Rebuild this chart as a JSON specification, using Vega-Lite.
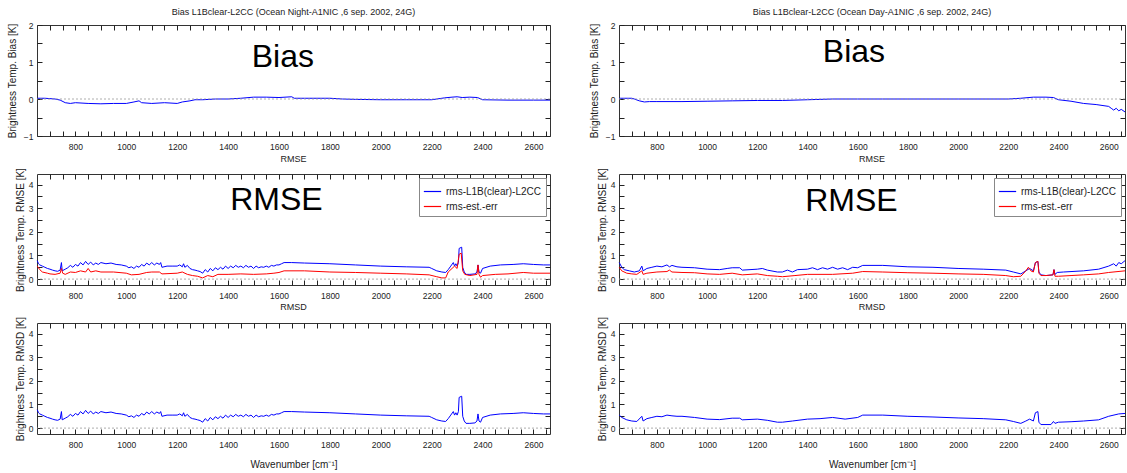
{
"$schema": "https://vega.github.io/schema/vega-lite/v6.json",
"padding": {"left": 6, "top": 7, "right": 0, "bottom": 0},
"config": {
 "font": "Liberation Sans",
 "view": {"stroke": "#333", "strokeWidth": 1},
 "axis": {"domain": false, "grid": false, "ticks": true, "tickSize": 5, "offset": -5, "zindex": 2, "tickColor": "#222", "tickWidth": 1, "labelFontSize": 8.5, "labelColor": "#222", "titleFontSize": 10, "titleFontWeight": "normal", "titleColor": "#222", "labelOverlap": false, "labelFlush": false, "labelPadding": 4, "labelBound": false},
 "axisX": {"labelPadding": 6},
 "title": {"fontSize": 9, "fontWeight": "normal", "color": "#222", "offset": 4},
 "legend": {"orient": "top-right", "offset": 4, "strokeColor": "#888", "fillColor": "#fff", "padding": 4, "symbolType": "stroke", "symbolStrokeWidth": 1.2, "symbolSize": 300, "labelFontSize": 10, "rowPadding": 0, "labelColor": "#222"}
},
"datasets": {
 "nBias": [{"x":650,"y":0.02},{"x":680,"y":0.02},{"x":700,"y":0.01},{"x":720,"y":0.0},{"x":740,"y":-0.03},{"x":760,"y":-0.1},{"x":780,"y":-0.12},{"x":800,"y":-0.1},{"x":850,"y":-0.12},{"x":900,"y":-0.13},{"x":950,"y":-0.12},{"x":1000,"y":-0.12},{"x":1030,"y":-0.08},{"x":1050,"y":-0.05},{"x":1060,"y":-0.1},{"x":1100,"y":-0.12},{"x":1150,"y":-0.1},{"x":1200,"y":-0.12},{"x":1220,"y":-0.08},{"x":1250,"y":-0.05},{"x":1270,"y":-0.02},{"x":1300,"y":-0.02},{"x":1350,"y":0.0},{"x":1400,"y":0.0},{"x":1450,"y":0.02},{"x":1500,"y":0.05},{"x":1550,"y":0.05},{"x":1600,"y":0.04},{"x":1650,"y":0.06},{"x":1660,"y":0.02},{"x":1700,"y":0.02},{"x":1800,"y":0.02},{"x":1850,"y":0.0},{"x":1900,"y":-0.01},{"x":2000,"y":-0.02},{"x":2100,"y":-0.02},{"x":2200,"y":-0.02},{"x":2220,"y":0.0},{"x":2250,"y":0.03},{"x":2280,"y":0.05},{"x":2300,"y":0.06},{"x":2320,"y":0.04},{"x":2350,"y":0.05},{"x":2380,"y":0.04},{"x":2400,"y":-0.02},{"x":2500,"y":-0.03},{"x":2600,"y":-0.03},{"x":2665,"y":-0.03}],
 "nR": [
  {"s":"rms-L1B(clear)-L2CC","x":650,"y":0.78},{"s":"rms-L1B(clear)-L2CC","x":655,"y":0.65},{"s":"rms-L1B(clear)-L2CC","x":660,"y":0.6},{"s":"rms-L1B(clear)-L2CC","x":670,"y":0.55},{"s":"rms-L1B(clear)-L2CC","x":680,"y":0.5},{"s":"rms-L1B(clear)-L2CC","x":690,"y":0.45},{"s":"rms-L1B(clear)-L2CC","x":700,"y":0.42},{"s":"rms-L1B(clear)-L2CC","x":710,"y":0.38},{"s":"rms-L1B(clear)-L2CC","x":720,"y":0.35},{"s":"rms-L1B(clear)-L2CC","x":730,"y":0.33},{"s":"rms-L1B(clear)-L2CC","x":740,"y":0.38},{"s":"rms-L1B(clear)-L2CC","x":745,"y":0.7},{"s":"rms-L1B(clear)-L2CC","x":748,"y":0.35},{"s":"rms-L1B(clear)-L2CC","x":760,"y":0.42},{"s":"rms-L1B(clear)-L2CC","x":770,"y":0.48},{"s":"rms-L1B(clear)-L2CC","x":780,"y":0.58},{"s":"rms-L1B(clear)-L2CC","x":790,"y":0.5},{"s":"rms-L1B(clear)-L2CC","x":800,"y":0.62},{"s":"rms-L1B(clear)-L2CC","x":810,"y":0.55},{"s":"rms-L1B(clear)-L2CC","x":820,"y":0.7},{"s":"rms-L1B(clear)-L2CC","x":830,"y":0.6},{"s":"rms-L1B(clear)-L2CC","x":840,"y":0.75},{"s":"rms-L1B(clear)-L2CC","x":850,"y":0.62},{"s":"rms-L1B(clear)-L2CC","x":860,"y":0.72},{"s":"rms-L1B(clear)-L2CC","x":870,"y":0.6},{"s":"rms-L1B(clear)-L2CC","x":880,"y":0.68},{"s":"rms-L1B(clear)-L2CC","x":890,"y":0.62},{"s":"rms-L1B(clear)-L2CC","x":900,"y":0.7},{"s":"rms-L1B(clear)-L2CC","x":920,"y":0.65},{"s":"rms-L1B(clear)-L2CC","x":940,"y":0.68},{"s":"rms-L1B(clear)-L2CC","x":960,"y":0.62},{"s":"rms-L1B(clear)-L2CC","x":980,"y":0.6},{"s":"rms-L1B(clear)-L2CC","x":1000,"y":0.55},{"s":"rms-L1B(clear)-L2CC","x":1010,"y":0.48},{"s":"rms-L1B(clear)-L2CC","x":1020,"y":0.52},{"s":"rms-L1B(clear)-L2CC","x":1030,"y":0.45},{"s":"rms-L1B(clear)-L2CC","x":1040,"y":0.55},{"s":"rms-L1B(clear)-L2CC","x":1050,"y":0.5},{"s":"rms-L1B(clear)-L2CC","x":1060,"y":0.62},{"s":"rms-L1B(clear)-L2CC","x":1070,"y":0.55},{"s":"rms-L1B(clear)-L2CC","x":1080,"y":0.68},{"s":"rms-L1B(clear)-L2CC","x":1090,"y":0.6},{"s":"rms-L1B(clear)-L2CC","x":1100,"y":0.7},{"s":"rms-L1B(clear)-L2CC","x":1110,"y":0.6},{"s":"rms-L1B(clear)-L2CC","x":1120,"y":0.68},{"s":"rms-L1B(clear)-L2CC","x":1130,"y":0.62},{"s":"rms-L1B(clear)-L2CC","x":1135,"y":0.7},{"s":"rms-L1B(clear)-L2CC","x":1140,"y":0.5},{"s":"rms-L1B(clear)-L2CC","x":1160,"y":0.55},{"s":"rms-L1B(clear)-L2CC","x":1180,"y":0.55},{"s":"rms-L1B(clear)-L2CC","x":1200,"y":0.55},{"s":"rms-L1B(clear)-L2CC","x":1210,"y":0.6},{"s":"rms-L1B(clear)-L2CC","x":1220,"y":0.52},{"s":"rms-L1B(clear)-L2CC","x":1225,"y":0.65},{"s":"rms-L1B(clear)-L2CC","x":1230,"y":0.5},{"s":"rms-L1B(clear)-L2CC","x":1240,"y":0.58},{"s":"rms-L1B(clear)-L2CC","x":1250,"y":0.45},{"s":"rms-L1B(clear)-L2CC","x":1260,"y":0.4},{"s":"rms-L1B(clear)-L2CC","x":1270,"y":0.38},{"s":"rms-L1B(clear)-L2CC","x":1280,"y":0.35},{"s":"rms-L1B(clear)-L2CC","x":1290,"y":0.32},{"s":"rms-L1B(clear)-L2CC","x":1300,"y":0.25},{"s":"rms-L1B(clear)-L2CC","x":1310,"y":0.4},{"s":"rms-L1B(clear)-L2CC","x":1320,"y":0.3},{"s":"rms-L1B(clear)-L2CC","x":1330,"y":0.45},{"s":"rms-L1B(clear)-L2CC","x":1340,"y":0.35},{"s":"rms-L1B(clear)-L2CC","x":1350,"y":0.48},{"s":"rms-L1B(clear)-L2CC","x":1360,"y":0.4},{"s":"rms-L1B(clear)-L2CC","x":1370,"y":0.5},{"s":"rms-L1B(clear)-L2CC","x":1380,"y":0.42},{"s":"rms-L1B(clear)-L2CC","x":1390,"y":0.55},{"s":"rms-L1B(clear)-L2CC","x":1400,"y":0.45},{"s":"rms-L1B(clear)-L2CC","x":1410,"y":0.55},{"s":"rms-L1B(clear)-L2CC","x":1420,"y":0.48},{"s":"rms-L1B(clear)-L2CC","x":1430,"y":0.58},{"s":"rms-L1B(clear)-L2CC","x":1440,"y":0.5},{"s":"rms-L1B(clear)-L2CC","x":1450,"y":0.55},{"s":"rms-L1B(clear)-L2CC","x":1460,"y":0.48},{"s":"rms-L1B(clear)-L2CC","x":1470,"y":0.58},{"s":"rms-L1B(clear)-L2CC","x":1480,"y":0.5},{"s":"rms-L1B(clear)-L2CC","x":1490,"y":0.55},{"s":"rms-L1B(clear)-L2CC","x":1500,"y":0.45},{"s":"rms-L1B(clear)-L2CC","x":1510,"y":0.55},{"s":"rms-L1B(clear)-L2CC","x":1520,"y":0.48},{"s":"rms-L1B(clear)-L2CC","x":1530,"y":0.52},{"s":"rms-L1B(clear)-L2CC","x":1540,"y":0.5},{"s":"rms-L1B(clear)-L2CC","x":1550,"y":0.55},{"s":"rms-L1B(clear)-L2CC","x":1560,"y":0.5},{"s":"rms-L1B(clear)-L2CC","x":1570,"y":0.58},{"s":"rms-L1B(clear)-L2CC","x":1580,"y":0.55},{"s":"rms-L1B(clear)-L2CC","x":1590,"y":0.6},{"s":"rms-L1B(clear)-L2CC","x":1600,"y":0.6},{"s":"rms-L1B(clear)-L2CC","x":1610,"y":0.65},{"s":"rms-L1B(clear)-L2CC","x":1620,"y":0.7},{"s":"rms-L1B(clear)-L2CC","x":1650,"y":0.7},{"s":"rms-L1B(clear)-L2CC","x":1700,"y":0.68},{"s":"rms-L1B(clear)-L2CC","x":1800,"y":0.65},{"s":"rms-L1B(clear)-L2CC","x":1900,"y":0.6},{"s":"rms-L1B(clear)-L2CC","x":2000,"y":0.55},{"s":"rms-L1B(clear)-L2CC","x":2100,"y":0.52},{"s":"rms-L1B(clear)-L2CC","x":2190,"y":0.5},{"s":"rms-L1B(clear)-L2CC","x":2200,"y":0.45},{"s":"rms-L1B(clear)-L2CC","x":2220,"y":0.35},{"s":"rms-L1B(clear)-L2CC","x":2240,"y":0.3},{"s":"rms-L1B(clear)-L2CC","x":2255,"y":0.28},{"s":"rms-L1B(clear)-L2CC","x":2265,"y":0.4},{"s":"rms-L1B(clear)-L2CC","x":2275,"y":0.55},{"s":"rms-L1B(clear)-L2CC","x":2285,"y":0.7},{"s":"rms-L1B(clear)-L2CC","x":2290,"y":0.55},{"s":"rms-L1B(clear)-L2CC","x":2295,"y":0.65},{"s":"rms-L1B(clear)-L2CC","x":2300,"y":0.55},{"s":"rms-L1B(clear)-L2CC","x":2305,"y":0.7},{"s":"rms-L1B(clear)-L2CC","x":2308,"y":1.3},{"s":"rms-L1B(clear)-L2CC","x":2318,"y":1.35},{"s":"rms-L1B(clear)-L2CC","x":2322,"y":0.5},{"s":"rms-L1B(clear)-L2CC","x":2328,"y":0.3},{"s":"rms-L1B(clear)-L2CC","x":2335,"y":0.2},{"s":"rms-L1B(clear)-L2CC","x":2350,"y":0.2},{"s":"rms-L1B(clear)-L2CC","x":2370,"y":0.22},{"s":"rms-L1B(clear)-L2CC","x":2378,"y":0.3},{"s":"rms-L1B(clear)-L2CC","x":2382,"y":0.6},{"s":"rms-L1B(clear)-L2CC","x":2386,"y":0.3},{"s":"rms-L1B(clear)-L2CC","x":2392,"y":0.25},{"s":"rms-L1B(clear)-L2CC","x":2400,"y":0.45},{"s":"rms-L1B(clear)-L2CC","x":2430,"y":0.55},{"s":"rms-L1B(clear)-L2CC","x":2470,"y":0.6},{"s":"rms-L1B(clear)-L2CC","x":2520,"y":0.62},{"s":"rms-L1B(clear)-L2CC","x":2560,"y":0.65},{"s":"rms-L1B(clear)-L2CC","x":2600,"y":0.62},{"s":"rms-L1B(clear)-L2CC","x":2640,"y":0.6},{"s":"rms-L1B(clear)-L2CC","x":2665,"y":0.6},
  {"s":"rms-est.-err","x":650,"y":0.55},{"s":"rms-est.-err","x":660,"y":0.4},{"s":"rms-est.-err","x":670,"y":0.3},{"s":"rms-est.-err","x":690,"y":0.25},{"s":"rms-est.-err","x":700,"y":0.22},{"s":"rms-est.-err","x":720,"y":0.2},{"s":"rms-est.-err","x":740,"y":0.25},{"s":"rms-est.-err","x":745,"y":0.45},{"s":"rms-est.-err","x":750,"y":0.25},{"s":"rms-est.-err","x":760,"y":0.2},{"s":"rms-est.-err","x":780,"y":0.3},{"s":"rms-est.-err","x":800,"y":0.28},{"s":"rms-est.-err","x":820,"y":0.35},{"s":"rms-est.-err","x":840,"y":0.3},{"s":"rms-est.-err","x":850,"y":0.45},{"s":"rms-est.-err","x":860,"y":0.3},{"s":"rms-est.-err","x":880,"y":0.35},{"s":"rms-est.-err","x":900,"y":0.3},{"s":"rms-est.-err","x":950,"y":0.3},{"s":"rms-est.-err","x":1000,"y":0.25},{"s":"rms-est.-err","x":1020,"y":0.18},{"s":"rms-est.-err","x":1050,"y":0.2},{"s":"rms-est.-err","x":1080,"y":0.28},{"s":"rms-est.-err","x":1100,"y":0.3},{"s":"rms-est.-err","x":1130,"y":0.3},{"s":"rms-est.-err","x":1140,"y":0.22},{"s":"rms-est.-err","x":1200,"y":0.25},{"s":"rms-est.-err","x":1220,"y":0.3},{"s":"rms-est.-err","x":1240,"y":0.2},{"s":"rms-est.-err","x":1260,"y":0.15},{"s":"rms-est.-err","x":1280,"y":0.12},{"s":"rms-est.-err","x":1300,"y":0.05},{"s":"rms-est.-err","x":1320,"y":0.15},{"s":"rms-est.-err","x":1340,"y":0.1},{"s":"rms-est.-err","x":1360,"y":0.2},{"s":"rms-est.-err","x":1400,"y":0.2},{"s":"rms-est.-err","x":1450,"y":0.22},{"s":"rms-est.-err","x":1500,"y":0.2},{"s":"rms-est.-err","x":1550,"y":0.22},{"s":"rms-est.-err","x":1580,"y":0.25},{"s":"rms-est.-err","x":1600,"y":0.28},{"s":"rms-est.-err","x":1620,"y":0.35},{"s":"rms-est.-err","x":1700,"y":0.35},{"s":"rms-est.-err","x":1800,"y":0.3},{"s":"rms-est.-err","x":1900,"y":0.28},{"s":"rms-est.-err","x":2000,"y":0.25},{"s":"rms-est.-err","x":2100,"y":0.22},{"s":"rms-est.-err","x":2190,"y":0.18},{"s":"rms-est.-err","x":2220,"y":0.1},{"s":"rms-est.-err","x":2240,"y":0.05},{"s":"rms-est.-err","x":2255,"y":0.05},{"s":"rms-est.-err","x":2265,"y":0.3},{"s":"rms-est.-err","x":2280,"y":0.45},{"s":"rms-est.-err","x":2290,"y":0.55},{"s":"rms-est.-err","x":2300,"y":0.45},{"s":"rms-est.-err","x":2308,"y":1.05},{"s":"rms-est.-err","x":2316,"y":1.1},{"s":"rms-est.-err","x":2322,"y":0.35},{"s":"rms-est.-err","x":2330,"y":0.2},{"s":"rms-est.-err","x":2350,"y":0.15},{"s":"rms-est.-err","x":2378,"y":0.2},{"s":"rms-est.-err","x":2382,"y":0.6},{"s":"rms-est.-err","x":2386,"y":0.2},{"s":"rms-est.-err","x":2392,"y":0.08},{"s":"rms-est.-err","x":2400,"y":0.15},{"s":"rms-est.-err","x":2450,"y":0.2},{"s":"rms-est.-err","x":2500,"y":0.22},{"s":"rms-est.-err","x":2560,"y":0.28},{"s":"rms-est.-err","x":2600,"y":0.25},{"s":"rms-est.-err","x":2665,"y":0.25}
 ],
 "dBias": [{"x":650,"y":0.02},{"x":700,"y":0.02},{"x":710,"y":0.0},{"x":730,"y":-0.05},{"x":750,"y":-0.08},{"x":770,"y":-0.07},{"x":800,"y":-0.07},{"x":900,"y":-0.07},{"x":1000,"y":-0.06},{"x":1100,"y":-0.05},{"x":1200,"y":-0.04},{"x":1300,"y":-0.04},{"x":1400,"y":-0.02},{"x":1500,"y":0.0},{"x":1600,"y":0.0},{"x":1700,"y":0.0},{"x":1800,"y":0.0},{"x":2000,"y":0.0},{"x":2200,"y":0.0},{"x":2250,"y":0.02},{"x":2300,"y":0.05},{"x":2350,"y":0.05},{"x":2380,"y":0.04},{"x":2400,"y":-0.02},{"x":2450,"y":-0.06},{"x":2500,"y":-0.12},{"x":2550,"y":-0.15},{"x":2600,"y":-0.2},{"x":2610,"y":-0.25},{"x":2620,"y":-0.3},{"x":2630,"y":-0.25},{"x":2640,"y":-0.32},{"x":2650,"y":-0.28},{"x":2665,"y":-0.35}],
 "dR": [
  {"s":"rms-L1B(clear)-L2CC","x":650,"y":0.7},{"s":"rms-L1B(clear)-L2CC","x":660,"y":0.5},{"s":"rms-L1B(clear)-L2CC","x":670,"y":0.4},{"s":"rms-L1B(clear)-L2CC","x":690,"y":0.35},{"s":"rms-L1B(clear)-L2CC","x":710,"y":0.3},{"s":"rms-L1B(clear)-L2CC","x":730,"y":0.35},{"s":"rms-L1B(clear)-L2CC","x":740,"y":0.55},{"s":"rms-L1B(clear)-L2CC","x":745,"y":0.35},{"s":"rms-L1B(clear)-L2CC","x":760,"y":0.45},{"s":"rms-L1B(clear)-L2CC","x":780,"y":0.5},{"s":"rms-L1B(clear)-L2CC","x":800,"y":0.55},{"s":"rms-L1B(clear)-L2CC","x":820,"y":0.52},{"s":"rms-L1B(clear)-L2CC","x":840,"y":0.6},{"s":"rms-L1B(clear)-L2CC","x":850,"y":0.52},{"s":"rms-L1B(clear)-L2CC","x":860,"y":0.58},{"s":"rms-L1B(clear)-L2CC","x":880,"y":0.52},{"s":"rms-L1B(clear)-L2CC","x":900,"y":0.5},{"s":"rms-L1B(clear)-L2CC","x":950,"y":0.48},{"s":"rms-L1B(clear)-L2CC","x":1000,"y":0.42},{"s":"rms-L1B(clear)-L2CC","x":1050,"y":0.4},{"s":"rms-L1B(clear)-L2CC","x":1080,"y":0.45},{"s":"rms-L1B(clear)-L2CC","x":1100,"y":0.48},{"s":"rms-L1B(clear)-L2CC","x":1130,"y":0.48},{"s":"rms-L1B(clear)-L2CC","x":1140,"y":0.38},{"s":"rms-L1B(clear)-L2CC","x":1200,"y":0.42},{"s":"rms-L1B(clear)-L2CC","x":1220,"y":0.45},{"s":"rms-L1B(clear)-L2CC","x":1240,"y":0.38},{"s":"rms-L1B(clear)-L2CC","x":1280,"y":0.3},{"s":"rms-L1B(clear)-L2CC","x":1300,"y":0.3},{"s":"rms-L1B(clear)-L2CC","x":1320,"y":0.38},{"s":"rms-L1B(clear)-L2CC","x":1340,"y":0.3},{"s":"rms-L1B(clear)-L2CC","x":1360,"y":0.4},{"s":"rms-L1B(clear)-L2CC","x":1400,"y":0.42},{"s":"rms-L1B(clear)-L2CC","x":1420,"y":0.48},{"s":"rms-L1B(clear)-L2CC","x":1440,"y":0.4},{"s":"rms-L1B(clear)-L2CC","x":1460,"y":0.48},{"s":"rms-L1B(clear)-L2CC","x":1480,"y":0.42},{"s":"rms-L1B(clear)-L2CC","x":1500,"y":0.5},{"s":"rms-L1B(clear)-L2CC","x":1520,"y":0.42},{"s":"rms-L1B(clear)-L2CC","x":1540,"y":0.48},{"s":"rms-L1B(clear)-L2CC","x":1560,"y":0.4},{"s":"rms-L1B(clear)-L2CC","x":1580,"y":0.5},{"s":"rms-L1B(clear)-L2CC","x":1600,"y":0.48},{"s":"rms-L1B(clear)-L2CC","x":1620,"y":0.58},{"s":"rms-L1B(clear)-L2CC","x":1700,"y":0.58},{"s":"rms-L1B(clear)-L2CC","x":1800,"y":0.52},{"s":"rms-L1B(clear)-L2CC","x":1900,"y":0.5},{"s":"rms-L1B(clear)-L2CC","x":2000,"y":0.45},{"s":"rms-L1B(clear)-L2CC","x":2100,"y":0.42},{"s":"rms-L1B(clear)-L2CC","x":2190,"y":0.38},{"s":"rms-L1B(clear)-L2CC","x":2220,"y":0.3},{"s":"rms-L1B(clear)-L2CC","x":2250,"y":0.22},{"s":"rms-L1B(clear)-L2CC","x":2270,"y":0.35},{"s":"rms-L1B(clear)-L2CC","x":2285,"y":0.45},{"s":"rms-L1B(clear)-L2CC","x":2300,"y":0.35},{"s":"rms-L1B(clear)-L2CC","x":2308,"y":0.7},{"s":"rms-L1B(clear)-L2CC","x":2318,"y":0.75},{"s":"rms-L1B(clear)-L2CC","x":2322,"y":0.3},{"s":"rms-L1B(clear)-L2CC","x":2330,"y":0.18},{"s":"rms-L1B(clear)-L2CC","x":2350,"y":0.15},{"s":"rms-L1B(clear)-L2CC","x":2378,"y":0.18},{"s":"rms-L1B(clear)-L2CC","x":2382,"y":0.4},{"s":"rms-L1B(clear)-L2CC","x":2386,"y":0.2},{"s":"rms-L1B(clear)-L2CC","x":2395,"y":0.28},{"s":"rms-L1B(clear)-L2CC","x":2420,"y":0.3},{"s":"rms-L1B(clear)-L2CC","x":2500,"y":0.35},{"s":"rms-L1B(clear)-L2CC","x":2560,"y":0.42},{"s":"rms-L1B(clear)-L2CC","x":2600,"y":0.55},{"s":"rms-L1B(clear)-L2CC","x":2620,"y":0.65},{"s":"rms-L1B(clear)-L2CC","x":2630,"y":0.55},{"s":"rms-L1B(clear)-L2CC","x":2640,"y":0.7},{"s":"rms-L1B(clear)-L2CC","x":2650,"y":0.65},{"s":"rms-L1B(clear)-L2CC","x":2665,"y":0.78},
  {"s":"rms-est.-err","x":650,"y":0.5},{"s":"rms-est.-err","x":660,"y":0.35},{"s":"rms-est.-err","x":680,"y":0.25},{"s":"rms-est.-err","x":700,"y":0.22},{"s":"rms-est.-err","x":720,"y":0.2},{"s":"rms-est.-err","x":740,"y":0.35},{"s":"rms-est.-err","x":745,"y":0.2},{"s":"rms-est.-err","x":760,"y":0.25},{"s":"rms-est.-err","x":800,"y":0.3},{"s":"rms-est.-err","x":840,"y":0.32},{"s":"rms-est.-err","x":850,"y":0.38},{"s":"rms-est.-err","x":860,"y":0.3},{"s":"rms-est.-err","x":900,"y":0.28},{"s":"rms-est.-err","x":950,"y":0.27},{"s":"rms-est.-err","x":1000,"y":0.22},{"s":"rms-est.-err","x":1050,"y":0.2},{"s":"rms-est.-err","x":1100,"y":0.25},{"s":"rms-est.-err","x":1140,"y":0.18},{"s":"rms-est.-err","x":1200,"y":0.22},{"s":"rms-est.-err","x":1240,"y":0.15},{"s":"rms-est.-err","x":1280,"y":0.12},{"s":"rms-est.-err","x":1300,"y":0.1},{"s":"rms-est.-err","x":1350,"y":0.15},{"s":"rms-est.-err","x":1400,"y":0.2},{"s":"rms-est.-err","x":1500,"y":0.2},{"s":"rms-est.-err","x":1580,"y":0.25},{"s":"rms-est.-err","x":1620,"y":0.32},{"s":"rms-est.-err","x":1700,"y":0.3},{"s":"rms-est.-err","x":1800,"y":0.27},{"s":"rms-est.-err","x":1900,"y":0.25},{"s":"rms-est.-err","x":2000,"y":0.22},{"s":"rms-est.-err","x":2100,"y":0.2},{"s":"rms-est.-err","x":2190,"y":0.15},{"s":"rms-est.-err","x":2220,"y":0.1},{"s":"rms-est.-err","x":2250,"y":0.12},{"s":"rms-est.-err","x":2270,"y":0.35},{"s":"rms-est.-err","x":2280,"y":0.5},{"s":"rms-est.-err","x":2290,"y":0.35},{"s":"rms-est.-err","x":2300,"y":0.3},{"s":"rms-est.-err","x":2308,"y":0.7},{"s":"rms-est.-err","x":2318,"y":0.75},{"s":"rms-est.-err","x":2322,"y":0.25},{"s":"rms-est.-err","x":2330,"y":0.15},{"s":"rms-est.-err","x":2350,"y":0.15},{"s":"rms-est.-err","x":2378,"y":0.18},{"s":"rms-est.-err","x":2382,"y":0.4},{"s":"rms-est.-err","x":2386,"y":0.12},{"s":"rms-est.-err","x":2400,"y":0.12},{"s":"rms-est.-err","x":2450,"y":0.15},{"s":"rms-est.-err","x":2500,"y":0.18},{"s":"rms-est.-err","x":2560,"y":0.22},{"s":"rms-est.-err","x":2600,"y":0.28},{"s":"rms-est.-err","x":2665,"y":0.35}
 ],
 "dD": [{"x":650,"y":0.55},{"x":660,"y":0.45},{"x":680,"y":0.35},{"x":700,"y":0.3},{"x":720,"y":0.28},{"x":740,"y":0.5},{"x":745,"y":0.3},{"x":760,"y":0.4},{"x":780,"y":0.45},{"x":800,"y":0.5},{"x":820,"y":0.48},{"x":840,"y":0.55},{"x":860,"y":0.52},{"x":880,"y":0.5},{"x":900,"y":0.5},{"x":950,"y":0.45},{"x":1000,"y":0.38},{"x":1050,"y":0.36},{"x":1100,"y":0.42},{"x":1130,"y":0.42},{"x":1140,"y":0.35},{"x":1200,"y":0.38},{"x":1240,"y":0.33},{"x":1280,"y":0.25},{"x":1300,"y":0.25},{"x":1340,"y":0.3},{"x":1400,"y":0.38},{"x":1450,"y":0.4},{"x":1500,"y":0.45},{"x":1550,"y":0.38},{"x":1600,"y":0.45},{"x":1620,"y":0.55},{"x":1700,"y":0.55},{"x":1800,"y":0.5},{"x":1900,"y":0.47},{"x":2000,"y":0.43},{"x":2100,"y":0.4},{"x":2190,"y":0.35},{"x":2220,"y":0.28},{"x":2250,"y":0.2},{"x":2270,"y":0.3},{"x":2285,"y":0.38},{"x":2300,"y":0.3},{"x":2308,"y":0.65},{"x":2318,"y":0.7},{"x":2322,"y":0.25},{"x":2330,"y":0.15},{"x":2370,"y":0.15},{"x":2380,"y":0.28},{"x":2386,"y":0.2},{"x":2400,"y":0.25},{"x":2450,"y":0.27},{"x":2500,"y":0.3},{"x":2560,"y":0.35},{"x":2600,"y":0.5},{"x":2640,"y":0.6},{"x":2665,"y":0.62}]
},
"columns": 2,
"spacing": {"row": 38, "column": 69},
"bounds": "flush",
"resolve": {"scale": {"stroke": "independent"}, "legend": {"stroke": "independent"}},
"concat": [
  {"width": 513, "height": 111,
   "title": "Bias L1Bclear-L2CC  (Ocean Night-A1NIC ,6 sep. 2002, 24G)",
   "layer": [
    {"data": {"name": "nBias"}, "mark": {"type": "line", "color": "#0000ff", "strokeWidth": 1},
     "encoding": {
      "x": {"field": "x", "type": "quantitative", "scale": {"domain": [649, 2665], "nice": false, "zero": false}, "axis": {"orient": "bottom", "values": [700,750,800,850,900,950,1000,1050,1100,1150,1200,1250,1300,1350,1400,1450,1500,1550,1600,1650,1700,1750,1800,1850,1900,1950,2000,2050,2100,2150,2200,2250,2300,2350,2400,2450,2500,2550,2600,2650], "format": "d", "labelExpr": "datum.value % 200 == 0 ? datum.label : ''", "title": null}},
      "y": {"field": "y", "type": "quantitative", "scale": {"domain": [-1, 2], "nice": false, "zero": false}, "axis": {"orient": "left", "values": [-1,-0.5,0,0.5,1,1.5,2], "format": "~g", "labelExpr": "datum.value % 1 == 0 ? datum.label : ''", "title": "Brightness Temp. Bias [K]", "titlePadding": 6}}}},
    {"data": {"values": [{}]}, "mark": {"type": "rule", "color": "#999", "strokeDash": [2, 2], "strokeWidth": 0.8},
     "encoding": {"y": {"datum": 0, "type": "quantitative", "axis": null}}},
    {"data": {"values": [{}]}, "mark": {"type": "text", "fontSize": 32, "color": "#000"},
     "encoding": {
      "x": {"datum": 1615, "type": "quantitative", "axis": {"orient": "top", "values": [700,750,800,850,900,950,1000,1050,1100,1150,1200,1250,1300,1350,1400,1450,1500,1550,1600,1650,1700,1750,1800,1850,1900,1950,2000,2050,2100,2150,2200,2250,2300,2350,2400,2450,2500,2550,2600,2650], "labels": false, "title": null}},
      "y": {"datum": 1.13, "type": "quantitative", "axis": {"orient": "right", "values": [-1,-0.5,0,0.5,1,1.5,2], "labels": false, "title": null}},
      "text": {"value": "Bias"}}}
   ],
   "resolve": {"axis": {"x": "independent", "y": "independent"}}
  },
  {"width": 506, "height": 111,
   "title": "Bias L1Bclear-L2CC  (Ocean Day-A1NIC ,6 sep. 2002, 24G)",
   "layer": [
    {"data": {"name": "dBias"}, "mark": {"type": "line", "color": "#0000ff", "strokeWidth": 1},
     "encoding": {
      "x": {"field": "x", "type": "quantitative", "scale": {"domain": [649, 2665], "nice": false, "zero": false}, "axis": {"orient": "bottom", "values": [700,750,800,850,900,950,1000,1050,1100,1150,1200,1250,1300,1350,1400,1450,1500,1550,1600,1650,1700,1750,1800,1850,1900,1950,2000,2050,2100,2150,2200,2250,2300,2350,2400,2450,2500,2550,2600,2650], "format": "d", "labelExpr": "datum.value % 200 == 0 ? datum.label : ''", "title": null}},
      "y": {"field": "y", "type": "quantitative", "scale": {"domain": [-1, 2], "nice": false, "zero": false}, "axis": {"orient": "left", "values": [-1,-0.5,0,0.5,1,1.5,2], "format": "~g", "labelExpr": "datum.value % 1 == 0 ? datum.label : ''", "title": "Brightness Temp. Bias [K]", "titlePadding": 6}}}},
    {"data": {"values": [{}]}, "mark": {"type": "rule", "color": "#999", "strokeDash": [2, 2], "strokeWidth": 0.8},
     "encoding": {"y": {"datum": 0, "type": "quantitative", "axis": null}}},
    {"data": {"values": [{}]}, "mark": {"type": "text", "fontSize": 32, "color": "#000"},
     "encoding": {
      "x": {"datum": 1585, "type": "quantitative", "axis": {"orient": "top", "values": [700,750,800,850,900,950,1000,1050,1100,1150,1200,1250,1300,1350,1400,1450,1500,1550,1600,1650,1700,1750,1800,1850,1900,1950,2000,2050,2100,2150,2200,2250,2300,2350,2400,2450,2500,2550,2600,2650], "labels": false, "title": null}},
      "y": {"datum": 1.27, "type": "quantitative", "axis": {"orient": "right", "values": [-1,-0.5,0,0.5,1,1.5,2], "labels": false, "title": null}},
      "text": {"value": "Bias"}}}
   ],
   "resolve": {"axis": {"x": "independent", "y": "independent"}}
  },
  {"width": 513, "height": 111,
   "title": "RMSE",
   "layer": [
    {"data": {"name": "nR"}, "mark": {"type": "line", "strokeWidth": 1},
     "encoding": {
      "x": {"field": "x", "type": "quantitative", "scale": {"domain": [649, 2665], "nice": false, "zero": false}, "axis": {"orient": "bottom", "values": [700,750,800,850,900,950,1000,1050,1100,1150,1200,1250,1300,1350,1400,1450,1500,1550,1600,1650,1700,1750,1800,1850,1900,1950,2000,2050,2100,2150,2200,2250,2300,2350,2400,2450,2500,2550,2600,2650], "format": "d", "labelExpr": "datum.value % 200 == 0 ? datum.label : ''", "title": null}},
      "y": {"field": "y", "type": "quantitative", "scale": {"domain": [-0.25, 4.45], "nice": false, "zero": false}, "axis": {"orient": "left", "values": [0,0.5,1,1.5,2,2.5,3,3.5,4], "format": "~g", "labelExpr": "datum.value % 1 == 0 ? datum.label : ''", "title": "Brightness Temp. RMSE [K]", "titlePadding": 3}},
      "stroke": {"field": "s", "type": "nominal", "scale": {"domain": ["rms-L1B(clear)-L2CC", "rms-est.-err"], "range": ["#0000ff", "#ff0000"]}, "legend": {"title": null}}}},
    {"data": {"values": [{}]}, "mark": {"type": "rule", "color": "#999", "strokeDash": [2, 2], "strokeWidth": 0.8},
     "encoding": {"y": {"datum": 0, "type": "quantitative", "axis": null}}},
    {"data": {"values": [{}]}, "mark": {"type": "text", "fontSize": 32, "color": "#000"},
     "encoding": {
      "x": {"datum": 1590, "type": "quantitative", "axis": {"orient": "top", "values": [700,750,800,850,900,950,1000,1050,1100,1150,1200,1250,1300,1350,1400,1450,1500,1550,1600,1650,1700,1750,1800,1850,1900,1950,2000,2050,2100,2150,2200,2250,2300,2350,2400,2450,2500,2550,2600,2650], "labels": false, "title": null}},
      "y": {"datum": 3.36, "type": "quantitative", "axis": {"orient": "right", "values": [0,0.5,1,1.5,2,2.5,3,3.5,4], "labels": false, "title": null}},
      "text": {"value": "RMSE"}}}
   ],
   "resolve": {"axis": {"x": "independent", "y": "independent"}}
  },
  {"width": 506, "height": 111,
   "title": "RMSE",
   "layer": [
    {"data": {"name": "dR"}, "mark": {"type": "line", "strokeWidth": 1},
     "encoding": {
      "x": {"field": "x", "type": "quantitative", "scale": {"domain": [649, 2665], "nice": false, "zero": false}, "axis": {"orient": "bottom", "values": [700,750,800,850,900,950,1000,1050,1100,1150,1200,1250,1300,1350,1400,1450,1500,1550,1600,1650,1700,1750,1800,1850,1900,1950,2000,2050,2100,2150,2200,2250,2300,2350,2400,2450,2500,2550,2600,2650], "format": "d", "labelExpr": "datum.value % 200 == 0 ? datum.label : ''", "title": null}},
      "y": {"field": "y", "type": "quantitative", "scale": {"domain": [-0.25, 4.45], "nice": false, "zero": false}, "axis": {"orient": "left", "values": [0,0.5,1,1.5,2,2.5,3,3.5,4], "format": "~g", "labelExpr": "datum.value % 1 == 0 ? datum.label : ''", "title": "Brightness Temp. RMSE [K]", "titlePadding": 3}},
      "stroke": {"field": "s", "type": "nominal", "scale": {"domain": ["rms-L1B(clear)-L2CC", "rms-est.-err"], "range": ["#0000ff", "#ff0000"]}, "legend": {"title": null}}}},
    {"data": {"values": [{}]}, "mark": {"type": "rule", "color": "#999", "strokeDash": [2, 2], "strokeWidth": 0.8},
     "encoding": {"y": {"datum": 0, "type": "quantitative", "axis": null}}},
    {"data": {"values": [{}]}, "mark": {"type": "text", "fontSize": 32, "color": "#000"},
     "encoding": {
      "x": {"datum": 1575, "type": "quantitative", "axis": {"orient": "top", "values": [700,750,800,850,900,950,1000,1050,1100,1150,1200,1250,1300,1350,1400,1450,1500,1550,1600,1650,1700,1750,1800,1850,1900,1950,2000,2050,2100,2150,2200,2250,2300,2350,2400,2450,2500,2550,2600,2650], "labels": false, "title": null}},
      "y": {"datum": 3.31, "type": "quantitative", "axis": {"orient": "right", "values": [0,0.5,1,1.5,2,2.5,3,3.5,4], "labels": false, "title": null}},
      "text": {"value": "RMSE"}}}
   ],
   "resolve": {"axis": {"x": "independent", "y": "independent"}}
  },
  {"width": 513, "height": 111,
   "title": "RMSD",
   "layer": [
    {"data": {"name": "nR"}, "transform": [{"filter": "datum.s == 'rms-L1B(clear)-L2CC'"}], "mark": {"type": "line", "color": "#0000ff", "strokeWidth": 1},
     "encoding": {
      "x": {"field": "x", "type": "quantitative", "scale": {"domain": [649, 2665], "nice": false, "zero": false}, "axis": {"orient": "bottom", "values": [700,750,800,850,900,950,1000,1050,1100,1150,1200,1250,1300,1350,1400,1450,1500,1550,1600,1650,1700,1750,1800,1850,1900,1950,2000,2050,2100,2150,2200,2250,2300,2350,2400,2450,2500,2550,2600,2650], "format": "d", "labelExpr": "datum.value % 200 == 0 ? datum.label : ''", "title": "Wavenumber [cm⁻¹]", "titlePadding": 11}},
      "y": {"field": "y", "type": "quantitative", "scale": {"domain": [-0.25, 4.45], "nice": false, "zero": false}, "axis": {"orient": "left", "values": [0,0.5,1,1.5,2,2.5,3,3.5,4], "format": "~g", "labelExpr": "datum.value % 1 == 0 ? datum.label : ''", "title": "Brightness Temp. RMSD [K]", "titlePadding": 3}}}},
    {"data": {"values": [{}]}, "mark": {"type": "rule", "color": "#999", "strokeDash": [2, 2], "strokeWidth": 0.8},
     "encoding": {"y": {"datum": 0, "type": "quantitative", "axis": null}}},
    {"data": {"values": [{}]}, "mark": {"type": "text", "text": ""},
     "encoding": {
      "x": {"datum": 1600, "type": "quantitative", "axis": {"orient": "top", "values": [700,750,800,850,900,950,1000,1050,1100,1150,1200,1250,1300,1350,1400,1450,1500,1550,1600,1650,1700,1750,1800,1850,1900,1950,2000,2050,2100,2150,2200,2250,2300,2350,2400,2450,2500,2550,2600,2650], "labels": false, "title": null}},
      "y": {"datum": 2, "type": "quantitative", "axis": {"orient": "right", "values": [0,0.5,1,1.5,2,2.5,3,3.5,4], "labels": false, "title": null}}}}
   ],
   "resolve": {"axis": {"x": "independent", "y": "independent"}}
  },
  {"width": 506, "height": 111,
   "title": "RMSD",
   "layer": [
    {"data": {"name": "dD"}, "mark": {"type": "line", "color": "#0000ff", "strokeWidth": 1},
     "encoding": {
      "x": {"field": "x", "type": "quantitative", "scale": {"domain": [649, 2665], "nice": false, "zero": false}, "axis": {"orient": "bottom", "values": [700,750,800,850,900,950,1000,1050,1100,1150,1200,1250,1300,1350,1400,1450,1500,1550,1600,1650,1700,1750,1800,1850,1900,1950,2000,2050,2100,2150,2200,2250,2300,2350,2400,2450,2500,2550,2600,2650], "format": "d", "labelExpr": "datum.value % 200 == 0 ? datum.label : ''", "title": "Wavenumber [cm⁻¹]", "titlePadding": 11}},
      "y": {"field": "y", "type": "quantitative", "scale": {"domain": [-0.25, 4.45], "nice": false, "zero": false}, "axis": {"orient": "left", "values": [0,0.5,1,1.5,2,2.5,3,3.5,4], "format": "~g", "labelExpr": "datum.value % 1 == 0 ? datum.label : ''", "title": "Brightness Temp. RMSD [K]", "titlePadding": 3}}}},
    {"data": {"values": [{}]}, "mark": {"type": "rule", "color": "#999", "strokeDash": [2, 2], "strokeWidth": 0.8},
     "encoding": {"y": {"datum": 0, "type": "quantitative", "axis": null}}},
    {"data": {"values": [{}]}, "mark": {"type": "text", "text": ""},
     "encoding": {
      "x": {"datum": 1600, "type": "quantitative", "axis": {"orient": "top", "values": [700,750,800,850,900,950,1000,1050,1100,1150,1200,1250,1300,1350,1400,1450,1500,1550,1600,1650,1700,1750,1800,1850,1900,1950,2000,2050,2100,2150,2200,2250,2300,2350,2400,2450,2500,2550,2600,2650], "labels": false, "title": null}},
      "y": {"datum": 2, "type": "quantitative", "axis": {"orient": "right", "values": [0,0.5,1,1.5,2,2.5,3,3.5,4], "labels": false, "title": null}}}}
   ],
   "resolve": {"axis": {"x": "independent", "y": "independent"}}
  }
]
}
